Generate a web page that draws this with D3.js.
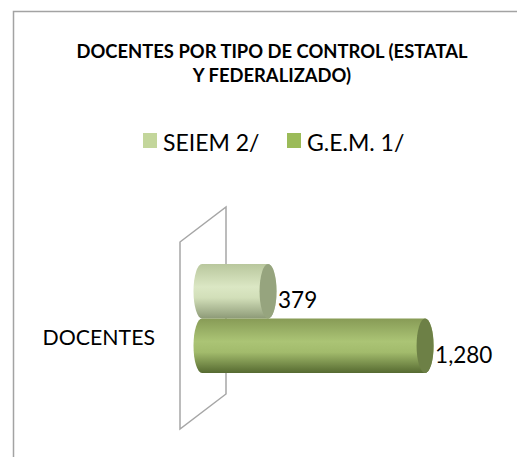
<!DOCTYPE html>
<html>
<head>
<meta charset="utf-8">
<script src="https://cdn.jsdelivr.net/npm/d3@7"></script>
<style>
  body { margin: 0; background: #fff; }
  svg { display: block; font-family: Lato, "Liberation Sans", Arial, sans-serif; }
</style>
</head>
<body>
<div id="chart"></div>
<script>
const categories = ['DOCENTES']
const series = ['SEIEM 2/', 'G.E.M. 1/']
const values = [379, 1280]
const titleLines = ['DOCENTES POR TIPO DE CONTROL (ESTATAL', 'Y FEDERALIZADO)']

const width = 517
const height = 457

const svg = d3.select('#chart')
  .append('svg')
  .attr('width', width)
  .attr('height', height)

// Colours per series: body gradient stops + end cap
const palette = [
  { legend: '#c3d69b', stops: ['#b9c79d', '#dbe7c4', '#d2dfb9', '#8d9a77'], cap: '#96a47e' },
  { legend: '#9bbb59', stops: ['#879b56', '#abc475', '#a2bb6c', '#566a31'], cap: '#6d8046' }
]

const defs = svg.append('defs')
palette.forEach((p, i) => {
  const g = defs.append('linearGradient')
    .attr('id', 'cyl-' + i)
    .attr('x1', '0%').attr('y1', '0%')
    .attr('x2', '0%').attr('y2', '100%')
  const offs = ['0%', '42%', '62%', '100%']
  p.stops.forEach((c, k) => {
    g.append('stop').attr('offset', offs[k]).attr('stop-color', c)
  })
})

// Outer frame (runs off the right and bottom of the picture)
svg.append('rect')
  .attr('x', 13.5)
  .attr('y', 11.5)
  .attr('width', 700)
  .attr('height', 700)
  .attr('fill', 'none')
  .attr('stroke', '#a3a3a3')
  .attr('stroke-width', 1.5)

// Title
svg.append('text')
  .attr('text-anchor', 'middle')
  .attr('font-weight', 'bold')
  .attr('font-size', '18.4px')
  .attr('fill', '#000')
  .selectAll('tspan')
  .data(titleLines)
  .join('tspan')
  .attr('x', 272)
  .attr('y', (d, i) => 58 + i * 24)
  .text(d => d)

// Legend
const legendX = [143, 287]
const legend = svg.append('g')
  .selectAll('g')
  .data(series)
  .join('g')
  .attr('transform', (d, i) => `translate(${legendX[i]},133)`)
legend.append('rect')
  .attr('width', 14)
  .attr('height', 15)
  .attr('fill', (d, i) => palette[i].legend)
legend.append('text')
  .attr('x', 20)
  .attr('y', 18)
  .attr('font-size', '23px')
  .attr('fill', '#000')
  .text(d => d)

// Scales
const x = d3.scaleLinear().domain([0, 1400]).range([202, 446])
const y = d3.scaleBand().domain(series).range([264, 373]).padding(0)

// Back wall (3D plane)
const wall = [[180, 242], [226, 207], [226, 394], [180, 429]]
svg.append('path')
  .attr('d', d3.line()(wall) + 'Z')
  .attr('fill', '#fff')
  .attr('stroke', '#a6a6a6')
  .attr('stroke-width', 1.5)

// Category label
svg.append('text')
  .attr('x', 155)
  .attr('y', 345)
  .attr('text-anchor', 'end')
  .attr('font-size', '21.3px')
  .attr('fill', '#000')
  .text(categories[0])

// Cylinders
const rx = 8.5
const bars = svg.append('g')
  .selectAll('g')
  .data(series.map((s, i) => ({ s, v: values[i], i })))
  .join('g')

bars.append('path')
  .attr('d', d => {
    const x0 = x(0), x1 = x(d.v)
    const y0 = y(d.s), y1 = y(d.s) + y.bandwidth()
    const ry = y.bandwidth() / 2
    return `M${x0},${y0} L${x1},${y0} A${rx},${ry} 0 0 1 ${x1},${y1} ` +
      `L${x0},${y1} A${rx},${ry} 0 0 1 ${x0},${y0} Z`
  })
  .attr('fill', d => `url(#cyl-${d.i})`)

bars.append('ellipse')
  .attr('cx', d => x(d.v))
  .attr('cy', d => y(d.s) + y.bandwidth() / 2)
  .attr('rx', rx)
  .attr('ry', y.bandwidth() / 2)
  .attr('fill', d => palette[d.i].cap)

// Data labels
bars.append('text')
  .attr('x', d => x(d.v) + rx + 1.5)
  .attr('y', d => y(d.s) + y.bandwidth() / 2 + 17)
  .attr('font-size', '22.5px')
  .attr('fill', '#000')
  .text(d => d3.format(',')(d.v))
</script>
</body>
</html>
